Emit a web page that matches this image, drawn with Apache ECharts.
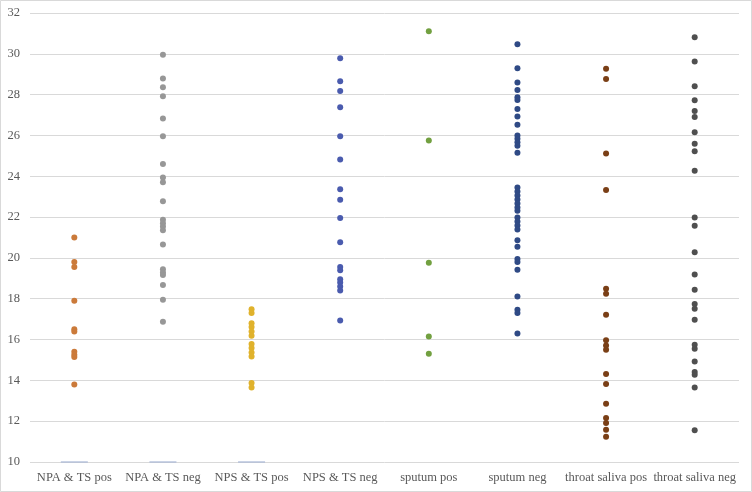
<!DOCTYPE html>
<html><head><meta charset="utf-8">
<script src="https://cdn.jsdelivr.net/npm/echarts@6/dist/echarts.min.js"></script>
<style>html,body{margin:0;padding:0;background:#fff}#c{width:752px;height:492px}</style>
</head><body><div id="c"></div>
<script>
const categories = ["NPA & TS pos","NPA & TS neg","NPS & TS pos","NPS & TS neg","sputum pos","sputum neg","throat saliva pos","throat saliva neg"];
const npaPos = [21.0,19.8,19.55,17.9,16.5,16.4,15.4,15.25,15.15,13.8];
const npaNeg = [29.96,28.79,28.36,27.92,26.83,25.96,24.6,23.94,23.71,22.78,21.87,21.7,21.54,21.35,20.66,19.45,19.29,19.16,18.67,17.95,16.87];
const npsPos = [17.49,17.3,16.8,16.61,16.4,16.18,15.78,15.58,15.37,15.17,13.87,13.65];
const npsNeg = [29.78,28.66,28.18,27.38,25.96,24.82,23.37,22.85,21.96,20.77,19.55,19.4,18.95,18.8,18.6,18.4,16.93];
const sputumPos = [31.1,25.75,19.76,16.15,15.3];
const sputumNeg = [30.47,29.29,28.6,28.23,27.87,27.74,27.3,26.93,26.52,26.0,25.84,25.67,25.5,25.15,23.45,23.25,23.06,22.86,22.66,22.47,22.31,21.98,21.78,21.59,21.39,20.87,20.55,19.95,19.8,19.42,18.11,17.46,17.3,16.3];
const throatPos = [29.27,28.77,25.11,23.33,18.49,18.24,17.22,15.97,15.71,15.5,14.31,13.82,12.85,12.15,11.91,11.58,11.24];
const throatNeg = [30.81,29.62,28.41,27.73,27.2,26.91,26.16,25.59,25.23,24.27,21.98,21.57,20.28,19.19,18.44,17.74,17.51,16.97,15.74,15.55,14.93,14.41,14.28,13.65,11.55];
const baselineCats = [0,1,2];
const baselineValues = [10,10,10];
const yTicks = {min:10,max:32,interval:2};

const groups = [npaPos,npaNeg,npsPos,npsNeg,sputumPos,sputumNeg,throatPos,throatNeg];
const colors = ['#CB7A3A','#979797','#E0B22C','#4A5BAE','#72A040','#2F4A85','#7A3F16','#4F4F4F'];

const series = groups.map((vals,i)=>({
  type:'scatter',
  name:categories[i],
  symbol:'circle',
  symbolSize:6,
  itemStyle:{color:colors[i],opacity:1},
  data: vals.map(v=>[i,v]),
  z:3
}));
series.push({
  type:'scatter',
  symbol:'rect',
  symbolSize:[27,1.5],
  itemStyle:{color:'#A8B6D6'},
  data: baselineCats.map((c,k)=>[c,baselineValues[k]]),
  z:2
});

const chart = echarts.init(document.getElementById('c'),null,{renderer:'canvas'});
chart.setOption({
  animation:false,
  backgroundColor:'#fff',
  grid:{left:30,right:13,top:13,bottom:30,containLabel:false},
  xAxis:{
    type:'category',
    data:categories,
    boundaryGap:true,
    axisLine:{show:false},
    axisTick:{show:false},
    splitLine:{show:false},
    axisLabel:{color:'#595959',fontFamily:'Liberation Serif',fontSize:12.5,margin:9,interval:0}
  },
  yAxis:{
    type:'value',
    min:yTicks.min,max:yTicks.max,interval:yTicks.interval,
    axisLine:{show:false},
    axisTick:{show:false},
    splitLine:{lineStyle:{color:'#D9D9D9',width:1}},
    axisLabel:{color:'#595959',fontFamily:'Liberation Serif',fontSize:12.5,margin:10}
  },
  graphic:[{type:'rect',shape:{x:0.5,y:0.5,width:751,height:491},style:{fill:null,stroke:'#D9D9D9',lineWidth:1},silent:true}],
  series:series
});
</script></body></html>
